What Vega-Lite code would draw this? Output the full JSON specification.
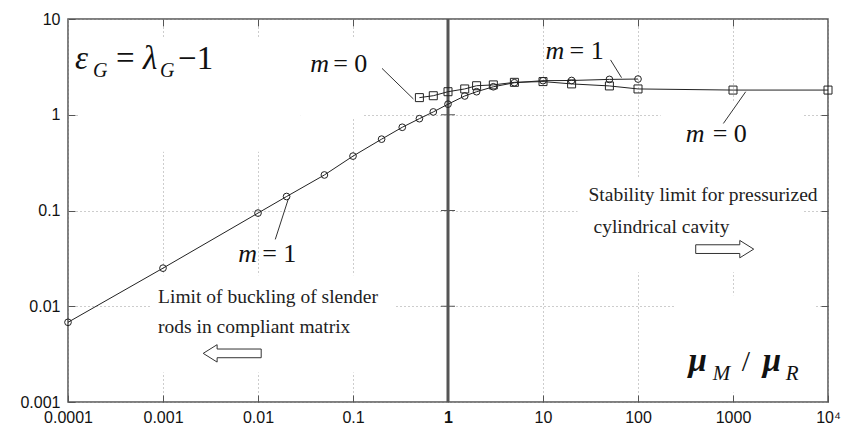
{
  "$schema": "https://vega.github.io/schema/vega-lite/v6.json",
  "width": 760,
  "height": 383,
  "autosize": {"type": "none"},
  "padding": {"left": 68, "top": 19, "right": 15, "bottom": 31},
  "background": "white",
  "config": {
    "view": {"stroke": "#555", "strokeWidth": 1.5},
    "axis": {"domain": false, "tickColor": "#555", "tickWidth": 1, "labelColor": "#111", "labelFont": "Liberation Sans", "labelFontSize": 16}
  },
  "datasets": {
    "series": [
      {"x": 0.0001, "y": 0.0068, "m": "m1"},
      {"x": 0.001, "y": 0.025, "m": "m1"},
      {"x": 0.01, "y": 0.094, "m": "m1"},
      {"x": 0.02, "y": 0.14, "m": "m1"},
      {"x": 0.05, "y": 0.235, "m": "m1"},
      {"x": 0.1, "y": 0.37, "m": "m1"},
      {"x": 0.2, "y": 0.556, "m": "m1"},
      {"x": 0.33, "y": 0.74, "m": "m1"},
      {"x": 0.5, "y": 0.91, "m": "m1"},
      {"x": 0.7, "y": 1.07, "m": "m1"},
      {"x": 1, "y": 1.29, "m": "m1"},
      {"x": 1.5, "y": 1.57, "m": "m1"},
      {"x": 2, "y": 1.74, "m": "m1"},
      {"x": 3, "y": 1.96, "m": "m1"},
      {"x": 5, "y": 2.16, "m": "m1"},
      {"x": 10, "y": 2.27, "m": "m1"},
      {"x": 20, "y": 2.28, "m": "m1"},
      {"x": 50, "y": 2.34, "m": "m1"},
      {"x": 100, "y": 2.36, "m": "m1"},
      {"x": 0.5, "y": 1.51, "m": "m0"},
      {"x": 0.7, "y": 1.58, "m": "m0"},
      {"x": 1, "y": 1.74, "m": "m0"},
      {"x": 1.5, "y": 1.86, "m": "m0"},
      {"x": 2, "y": 2.01, "m": "m0"},
      {"x": 3, "y": 2.05, "m": "m0"},
      {"x": 5, "y": 2.18, "m": "m0"},
      {"x": 10, "y": 2.22, "m": "m0"},
      {"x": 20, "y": 2.1, "m": "m0"},
      {"x": 50, "y": 2.0, "m": "m0"},
      {"x": 100, "y": 1.86, "m": "m0"},
      {"x": 1000, "y": 1.81, "m": "m0"},
      {"x": 10000, "y": 1.81, "m": "m0"}
    ],
    "masks": [
      {"x": 0.0001274, "x2": 0.02785, "y": 6.25, "y2": 0.41},
      {"x": 0.02785, "x2": 0.1253, "y": 6.25, "y2": 0.908},
      {"x": 0.000731, "x2": 0.279, "y": 0.02113, "y2": 0.002036},
      {"x": 23.1, "x2": 5559, "y": 0.2243, "y2": 0.0227},
      {"x": 249, "x2": 7432, "y": 0.01303, "y2": 0.001257},
      {"x": 173, "x2": 5559, "y": 1.368, "y2": 0.2243}
    ],
    "leaders": [
      {"x": 0.202, "y": 3.05, "x2": 0.433, "y2": 1.46},
      {"x": 51.4, "y": 3.74, "x2": 67.1, "y2": 2.44},
      {"x": 1361, "y": 1.74, "x2": 792, "y2": 0.811},
      {"x": 0.0209, "y": 0.133, "x2": 0.0152, "y2": 0.0499}
    ]
  },
  "encoding": {
    "x": {"field": "x", "type": "quantitative", "scale": {"type": "log", "domain": [0.0001, 10000], "nice": false}, "axis": null},
    "y": {"field": "y", "type": "quantitative", "scale": {"type": "log", "domain": [0.001, 10], "nice": false}, "axis": null}
  },
  "layer": [
    {
      "data": {"name": "masks"},
      "mark": {"type": "rect", "fill": "white", "strokeWidth": 0},
      "encoding": {
        "x": {"field": "x", "type": "quantitative", "scale": {"type": "log", "domain": [0.0001, 10000], "nice": false},
          "axis": {"orient": "bottom", "title": null, "values": [0.0001, 0.001, 0.01, 0.1, 1, 10, 100, 1000, 10000], "format": ".4~f",
            "labelExpr": "datum.value > 5000 ? '10⁴' : datum.label",
            "labelFontWeight": {"condition": {"test": "datum.value == 1", "value": "bold"}, "value": "normal"},
            "tickSize": -7, "labelPadding": 14, "grid": true, "gridColor": "#9a9a9a", "gridDash": [1, 3], "gridWidth": 1, "labelFlush": false}},
        "x2": {"field": "x2"},
        "y": {"field": "y", "type": "quantitative", "scale": {"type": "log", "domain": [0.001, 10], "nice": false},
          "axis": {"orient": "left", "title": null, "values": [0.001, 0.01, 0.1, 1, 10], "format": ".3~f",
            "tickSize": -7, "labelPadding": 15, "grid": true, "gridColor": "#9a9a9a", "gridDash": [1, 3], "gridWidth": 1, "labelFlush": false}},
        "y2": {"field": "y2"}
      }
    },
    {
      "data": {"values": [{"x": 1, "y": 0.001, "y2": 10}]},
      "mark": {"type": "rule", "color": "#555", "strokeWidth": 3},
      "encoding": {
        "x": {"field": "x", "type": "quantitative",
          "axis": {"orient": "top", "title": null, "values": [0.001, 0.01, 0.1, 1, 10, 100, 1000], "labels": false, "tickSize": -7, "grid": false}},
        "y": {"field": "y", "type": "quantitative",
          "axis": {"orient": "right", "title": null, "values": [0.01, 0.1, 1], "labels": false, "tickSize": -7, "grid": false}},
        "y2": {"field": "y2"}
      }
    },
    {
      "data": {"values": [{"x": 0.844, "x2": 1.185, "y": 0.01}, {"x": 0.844, "x2": 1.185, "y": 0.1}, {"x": 0.844, "x2": 1.185, "y": 1}]},
      "mark": {"type": "rule", "color": "#555", "strokeWidth": 1},
      "encoding": {"x2": {"field": "x2"}}
    },
    {
      "data": {"name": "leaders"},
      "mark": {"type": "rule", "color": "#333", "strokeWidth": 1},
      "encoding": {"x2": {"field": "x2"}, "y2": {"field": "y2"}}
    },
    {
      "data": {"name": "series"},
      "mark": {"type": "line", "color": "#222", "strokeWidth": 1},
      "encoding": {"detail": {"field": "m", "type": "nominal"}}
    },
    {
      "data": {"name": "series"},
      "mark": {"type": "point", "filled": false, "color": "#222", "strokeWidth": 1, "opacity": 1},
      "encoding": {
        "shape": {"field": "m", "type": "nominal", "scale": {"domain": ["m1", "m0"], "range": ["circle", "square"]}, "legend": null},
        "size": {"field": "m", "type": "nominal", "scale": {"domain": ["m1", "m0"], "range": [45, 64]}, "legend": null}
      }
    },
    {
      "data": {"values": [{"x": 0.00535, "y": 0.00322}]},
      "mark": {"type": "point", "shape": "M -1 0 L -0.52 -0.3 L -0.52 -0.15 L 1 -0.15 L 1 0.15 L -0.52 0.15 L -0.52 0.3 Z", "filled": true, "fill": "white", "stroke": "#333", "strokeWidth": 1, "size": 3364, "opacity": 1}
    },
    {
      "data": {"values": [{"x": 818, "y": 0.0395}]},
      "mark": {"type": "point", "shape": "M 1 0 L 0.52 -0.3 L 0.52 -0.15 L -1 -0.15 L -1 0.15 L 0.52 0.15 L 0.52 0.3 Z", "filled": true, "fill": "white", "stroke": "#333", "strokeWidth": 1, "size": 3364, "opacity": 1}
    },
    {
      "data": {"values": [
        {"x": 30.1, "y": 0.145, "t": "Stability limit for pressurized"},
        {"x": 34.0, "y": 0.0672, "t": "cylindrical cavity"},
        {"x": 0.000887, "y": 0.0124, "t": "Limit of buckling of slender"},
        {"x": 0.000887, "y": 0.00603, "t": "rods in compliant matrix"}
      ]},
      "mark": {"type": "text", "font": "Liberation Serif", "fontSize": 19.5, "align": "left", "baseline": "middle", "color": "#222"},
      "encoding": {"text": {"field": "t"}}
    },
    {
      "data": {"values": [
        {"x": 0.0001186, "y": 3.03, "t": "ε"},
        {"x": 0.000617, "y": 3.03, "t": "λ"}
      ]},
      "mark": {"type": "text", "font": "Liberation Serif", "fontSize": 33, "fontStyle": "italic", "align": "left", "baseline": "alphabetic", "color": "#111"},
      "encoding": {"text": {"field": "t"}}
    },
    {
      "data": {"values": [
        {"x": 0.00032, "y": 3.03, "t": "="},
        {"x": 0.00144, "y": 3.03, "t": "−1"}
      ]},
      "mark": {"type": "text", "font": "Liberation Serif", "fontSize": 33, "align": "left", "baseline": "alphabetic", "color": "#111"},
      "encoding": {"text": {"field": "t"}}
    },
    {
      "data": {"values": [
        {"x": 0.000183, "y": 2.5, "t": "G"},
        {"x": 0.000931, "y": 2.5, "t": "G"}
      ]},
      "mark": {"type": "text", "font": "Liberation Serif", "fontSize": 20, "fontStyle": "italic", "align": "left", "baseline": "alphabetic", "color": "#111"},
      "encoding": {"text": {"field": "t"}}
    },
    {
      "data": {"values": [
        {"x": 0.0355, "y": 2.82, "t": "m"},
        {"x": 10.6, "y": 3.86, "t": "m"},
        {"x": 317.6, "y": 0.521, "t": "m"},
        {"x": 0.00618, "y": 0.0289, "t": "m"}
      ]},
      "mark": {"type": "text", "font": "Liberation Serif", "fontSize": 26, "fontStyle": "italic", "align": "left", "baseline": "alphabetic", "color": "#111"},
      "encoding": {"text": {"field": "t"}}
    },
    {
      "data": {"values": [
        {"x": 0.0619, "y": 2.82, "t": "= 0"},
        {"x": 19.0, "y": 3.86, "t": "= 1"},
        {"x": 611, "y": 0.521, "t": "= 0"},
        {"x": 0.01106, "y": 0.0289, "t": "= 1"}
      ]},
      "mark": {"type": "text", "font": "Liberation Serif", "fontSize": 26, "align": "left", "baseline": "alphabetic", "color": "#111"},
      "encoding": {"text": {"field": "t"}}
    },
    {
      "data": {"values": [
        {"x": 341, "y": 0.002085, "t": "μ"},
        {"x": 2056, "y": 0.002085, "t": "μ"}
      ]},
      "mark": {"type": "text", "font": "Liberation Serif", "fontSize": 33, "fontStyle": "italic", "fontWeight": "bold", "align": "left", "baseline": "alphabetic", "color": "#111"},
      "encoding": {"text": {"field": "t"}}
    },
    {
      "data": {"values": [
        {"x": 611, "y": 0.00168, "t": "M"},
        {"x": 3590, "y": 0.00168, "t": "R"}
      ]},
      "mark": {"type": "text", "font": "Liberation Serif", "fontSize": 21, "fontStyle": "italic", "align": "left", "baseline": "alphabetic", "color": "#111"},
      "encoding": {"text": {"field": "t"}}
    },
    {
      "data": {"values": [{"x": 1236, "y": 0.002085, "t": "/"}]},
      "mark": {"type": "text", "font": "Liberation Serif", "fontSize": 30, "align": "left", "baseline": "alphabetic", "color": "#111"},
      "encoding": {"text": {"field": "t"}}
    }
  ],
  "resolve": {"axis": {"x": "independent", "y": "independent"}}
}
